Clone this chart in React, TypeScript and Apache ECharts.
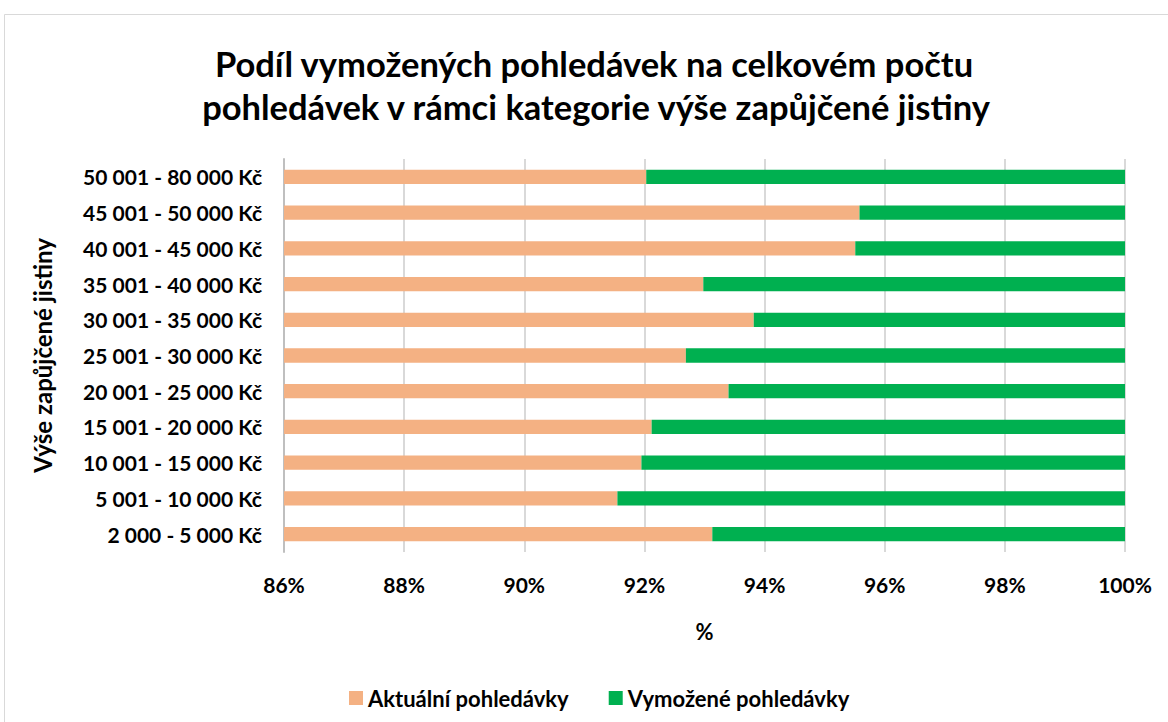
import React, { useEffect, useRef } from "react";
import * as echarts from "echarts";

const categories = [
  "2 000 - 5 000 Kč",
  "5 001 - 10 000 Kč",
  "10 001 - 15 000 Kč",
  "15 001 - 20 000 Kč",
  "20 001 - 25 000 Kč",
  "25 001 - 30 000 Kč",
  "30 001 - 35 000 Kč",
  "35 001 - 40 000 Kč",
  "40 001 - 45 000 Kč",
  "45 001 - 50 000 Kč",
  "50 001 - 80 000 Kč",
];

const aktualni = [93.13, 91.55, 91.95, 92.12, 93.4, 92.69, 93.82, 92.98, 95.51, 95.58, 92.03];
const vymozene = [6.87, 8.45, 8.05, 7.88, 6.6, 7.31, 6.18, 7.02, 4.49, 4.42, 7.97];

const xTicks = { min: 86, max: 100, interval: 2 };

const titleLines = [
  "Podíl vymožených pohledávek na celkovém počtu",
  "pohledávek v rámci kategorie výše zapůjčené jistiny",
];
const FONT = "Lato, 'Open Sans', sans-serif";

export default function App() {
  const ref = useRef<HTMLDivElement>(null);
  useEffect(() => {
    if (!ref.current) return;
    const chart = echarts.init(ref.current, null, { renderer: "svg" });
    const titleStyle = {
      align: "center",
      verticalAlign: "middle",
      fontFamily: FONT,
      fontWeight: "bold",
      fontSize: 34.5,
      fill: "#000000",
    };
    chart.setOption({
      animation: false,
      backgroundColor: "#ffffff",
      textStyle: { fontFamily: FONT },
      graphic: [
        {
          type: "rect",
          shape: { x: 4.5, y: 14.5, width: 1175, height: 720 },
          style: { fill: "none", stroke: "#d9d9d9", lineWidth: 1 },
          silent: true,
        },
        {
          type: "text",
          x: 594,
          y: 63,
          style: { ...titleStyle, text: titleLines[0] },
        },
        {
          type: "text",
          x: 596,
          y: 106,
          style: { ...titleStyle, text: titleLines[1] },
        },
      ],
      legend: {
        left: 344,
        top: 682,
        icon: "rect",
        itemWidth: 14,
        itemHeight: 14,
        itemGap: 40,
        itemTextGap: 6,
        textStyle: { fontFamily: FONT, fontWeight: "bold", fontSize: 22, color: "#000" },
        data: ["Aktuální pohledávky", "Vymožené pohledávky"],
      },
      grid: { left: 284, right: 43, top: 159, bottom: 170, containLabel: false },
      xAxis: {
        type: "value",
        min: xTicks.min,
        max: xTicks.max,
        interval: xTicks.interval,
        name: "%",
        nameLocation: "middle",
        nameGap: 68,
        nameTextStyle: { fontFamily: FONT, fontWeight: "bold", fontSize: 22, color: "#000" },
        axisLabel: {
          formatter: "{value}%",
          margin: 22,
          fontFamily: FONT,
          fontWeight: "bold",
          fontSize: 21,
          color: "#000",
        },
        axisLine: { show: false },
        axisTick: { show: false },
        splitLine: { show: true, lineStyle: { color: "#d9d9d9", width: 2 } },
      },
      yAxis: {
        type: "category",
        data: categories,
        name: "Výše zapůjčené jistiny",
        nameLocation: "middle",
        nameRotate: 90,
        nameGap: 230,
        nameTextStyle: { fontFamily: FONT, fontWeight: "bold", fontSize: 24, color: "#000" },
        axisLabel: {
          margin: 22,
          fontFamily: FONT,
          fontWeight: "bold",
          fontSize: 21,
          color: "#000",
        },
        axisLine: { show: true, lineStyle: { color: "#bfbfbf", width: 2 } },
        axisTick: { show: false },
        splitLine: { show: false },
      },
      series: [
        {
          name: "Aktuální pohledávky",
          type: "bar",
          stack: "total",
          data: aktualni,
          barCategoryGap: "60%",
          clip: true,
          itemStyle: { color: "#F4B183" },
        },
        {
          name: "Vymožené pohledávky",
          type: "bar",
          stack: "total",
          data: vymozene,
          barCategoryGap: "60%",
          clip: true,
          itemStyle: { color: "#00B050" },
        },
      ],
    });
    return () => chart.dispose();
  }, []);
  return (
    <div
      ref={ref}
      style={{ position: "absolute", left: 0, top: 0, width: 1168, height: 722 }}
    />
  );
}
